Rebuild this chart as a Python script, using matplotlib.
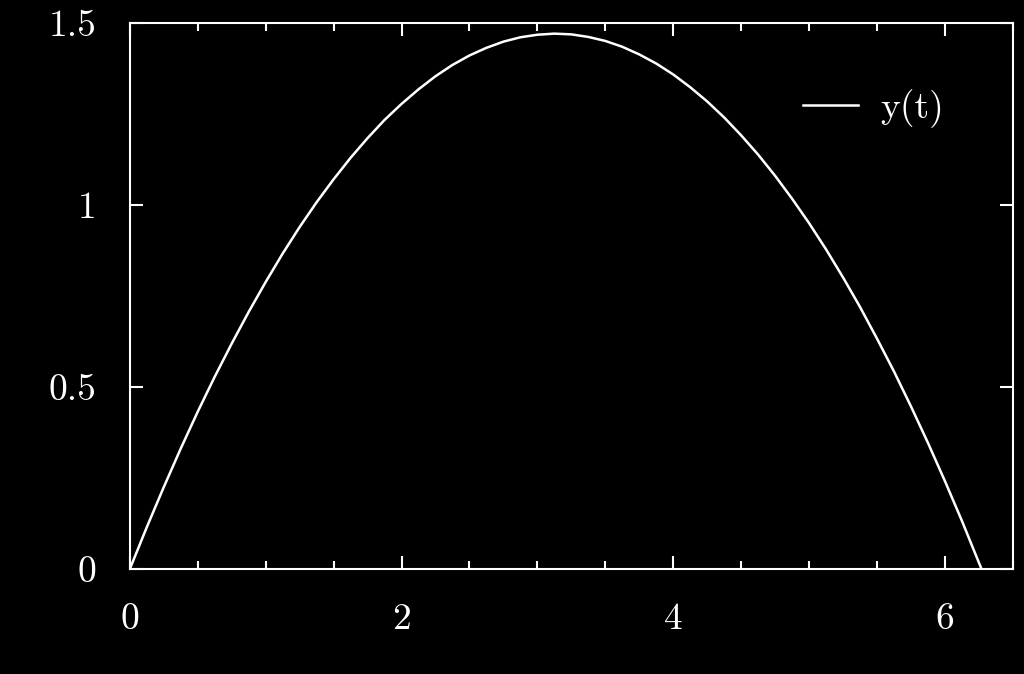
import matplotlib
matplotlib.use("Agg")
import matplotlib.pyplot as plt
from matplotlib.ticker import MultipleLocator

# values
t = [0.0, 0.125, 0.25, 0.375, 0.5, 0.625, 0.75, 0.875, 1.0, 1.125, 1.25, 1.375,
     1.5, 1.625, 1.75, 1.875, 2.0, 2.125, 2.25, 2.375, 2.5, 2.625, 2.75, 2.875,
     3.0, 3.125, 3.25, 3.375, 3.5, 3.625, 3.75, 3.875, 4.0, 4.125, 4.25, 4.375,
     4.5, 4.625, 4.75, 4.875, 5.0, 5.125, 5.25, 5.375, 5.5, 5.625, 5.75, 5.875,
     6.0, 6.125, 6.27]
y = [0.0, 0.115, 0.225, 0.331, 0.432, 0.528, 0.619, 0.706, 0.788, 0.866, 0.939, 1.007,
     1.070, 1.129, 1.183, 1.233, 1.277, 1.317, 1.353, 1.384, 1.410, 1.431, 1.448, 1.460,
     1.467, 1.470, 1.468, 1.461, 1.450, 1.434, 1.413, 1.388, 1.358, 1.323, 1.284, 1.240,
     1.191, 1.138, 1.080, 1.017, 0.950, 0.878, 0.801, 0.720, 0.633, 0.543, 0.447, 0.347,
     0.242, 0.133, 0.0]

xticks = [0, 2, 4, 6]
yticks = [0, 0.5, 1, 1.5]
ytick_labels = ["0", "0.5", "1", "1.5"]

plt.rcParams['font.family'] = 'cmr10'
plt.rcParams['axes.formatter.use_mathtext'] = True

fig = plt.figure(figsize=(10.24, 6.74), dpi=100, facecolor='black')
ax = fig.add_axes([0.1268, 0.1558, 0.8622, 0.8105])
ax.set_facecolor('black')

ax.plot(t, y, color='white', lw=1.8, label='y(t)')

ax.set_xlim(0, 6.5)
ax.set_ylim(0, 1.5)
ax.set_xticks(xticks)
ax.set_xticklabels([str(v) for v in xticks])
ax.xaxis.set_minor_locator(MultipleLocator(0.5))
ax.set_yticks(yticks)
ax.set_yticklabels(ytick_labels)

for s in ax.spines.values():
    s.set_color('white')
    s.set_linewidth(1.5)

ax.tick_params(which='both', direction='in', colors='white', top=True, right=True,
               labelsize=27, width=1.5, pad=24)
ax.tick_params(which='major', length=9.5)
ax.tick_params(which='minor', length=6)

leg = ax.legend(loc='center left', bbox_to_anchor=(0.762, 0.843), frameon=False,
                fontsize=27, handlelength=1.47, handletextpad=0.59,
                borderpad=0, borderaxespad=0)
for txt in leg.get_texts():
    txt.set_color('white')

fig.savefig('out.png', dpi=100, facecolor='black')
